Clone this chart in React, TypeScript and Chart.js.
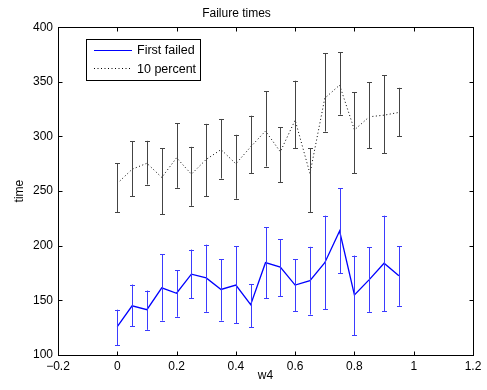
import React, { useEffect, useRef } from "react";
import { Chart, registerables } from "chart.js";

Chart.register(...registerables);

const w4 = [0, 0.05, 0.1, 0.15, 0.2, 0.25, 0.3, 0.35, 0.4, 0.45, 0.5, 0.55, 0.6, 0.65, 0.7, 0.75, 0.8, 0.85, 0.9, 0.95];

const firstFailed = [126, 145, 141.5, 161.5, 156.5, 174, 170.5, 160, 164, 146, 184.5, 180.5, 164, 168, 184.5, 213.5, 155, 169, 184, 172.5];
const firstFailedLow = [109, 126.5, 123, 131.5, 135, 152, 139.5, 131.5, 129, 125.5, 152, 154, 140, 137, 142, 175, 118, 139.5, 140, 145];
const firstFailedHigh = [141.5, 164.5, 159, 192, 177.5, 196.5, 201, 187.5, 199.5, 165, 217, 206, 187.5, 199, 227.5, 252.5, 191, 198.5, 227.5, 199.5];

const tenPercent = [257, 270, 275.5, 262.5, 280.5, 265.5, 279, 288, 275, 290.5, 305, 286, 315, 266, 335, 347, 306, 318, 319.5, 322];
const tenPercentLow = [230.5, 245.5, 256, 229, 253, 236.5, 245.5, 261.5, 243, 266.5, 272.5, 258, 289.5, 230.5, 304.5, 320, 266.5, 289, 284.5, 300];
const tenPercentHigh = [275.5, 295.5, 296, 289, 312, 290.5, 311.5, 316, 301.5, 319, 341.5, 308.5, 351, 289, 376, 377, 340.5, 349.5, 356, 344.5];

const xTicks = [-0.2, 0, 0.2, 0.4, 0.6, 0.8, 1, 1.2];
const yTicks = [100, 150, 200, 250, 300, 350, 400];

const seriesNames = ["First failed", "10 percent"];
const titleText = "Failure times";
const xTitle = "w4";
const yTitle = "time";

const FONT = "'Liberation Sans', Arial, Helvetica, sans-serif";

const fmt = (v: number) => String(Math.round(v * 10) / 10).replace("-", "\u2212");

export default function App() {
  const ref = useRef<HTMLCanvasElement | null>(null);

  useEffect(() => {
    if (!ref.current) return;

    const errorBars = [
      { low: tenPercentLow, high: tenPercentHigh, color: "#444444" },
      { low: firstFailedLow, high: firstFailedHigh, color: "#3b3bff" },
    ];

    const errPlugin = {
      id: "errbars",
      afterDatasetsDraw(chart: any) {
        const { ctx, scales } = chart;
        const xs = scales.x;
        const ys = scales.y;
        ctx.save();
        ctx.lineWidth = 1;
        errorBars.forEach((eb) => {
          ctx.strokeStyle = eb.color;
          w4.forEach((xv, i) => {
            const x = Math.round(xs.getPixelForValue(xv)) + 0.5;
            const y1 = ys.getPixelForValue(eb.low[i]);
            const y2 = ys.getPixelForValue(eb.high[i]);
            ctx.beginPath();
            ctx.moveTo(x, y1);
            ctx.lineTo(x, y2);
            ctx.moveTo(x - 2.5, Math.round(y1) + 0.5);
            ctx.lineTo(x + 2.5, Math.round(y1) + 0.5);
            ctx.moveTo(x - 2.5, Math.round(y2) + 0.5);
            ctx.lineTo(x + 2.5, Math.round(y2) + 0.5);
            ctx.stroke();
          });
        });
        ctx.restore();
      },
    };

    const framePlugin = {
      id: "frame",
      afterDraw(chart: any) {
        const { ctx, chartArea, scales } = chart;
        const { left, right, top, bottom } = chartArea;
        ctx.save();
        ctx.strokeStyle = "#000";
        ctx.lineWidth = 1;
        const L = Math.round(left) + 0.5;
        const R = Math.round(right) + 0.5;
        const T = Math.round(top) + 0.5;
        const B = Math.round(bottom) + 0.5;
        ctx.strokeRect(L, T, R - L, B - T);
        const tl = 4;
        ctx.beginPath();
        xTicks.forEach((v) => {
          const x = Math.round(scales.x.getPixelForValue(v)) + 0.5;
          ctx.moveTo(x, B);
          ctx.lineTo(x, B - tl);
          ctx.moveTo(x, T);
          ctx.lineTo(x, T + tl);
        });
        yTicks.forEach((v) => {
          const y = Math.round(scales.y.getPixelForValue(v)) + 0.5;
          ctx.moveTo(L, y);
          ctx.lineTo(L + tl, y);
          ctx.moveTo(R, y);
          ctx.lineTo(R - tl, y);
        });
        ctx.stroke();

        // legend
        const bx = 86.5, by = 39.5, bw = 114, bh = 41;
        ctx.fillStyle = "#fff";
        ctx.fillRect(bx, by, bw, bh);
        ctx.strokeRect(bx, by, bw, bh);
        ctx.font = "12.5px " + FONT;
        ctx.fillStyle = "#000";
        ctx.textBaseline = "middle";
        ctx.textAlign = "left";
        ctx.strokeStyle = "#0000ff";
        ctx.lineWidth = 1;
        ctx.beginPath();
        ctx.moveTo(94, 50.5);
        ctx.lineTo(132, 50.5);
        ctx.stroke();
        ctx.fillText(seriesNames[0], 137, 51);
        ctx.strokeStyle = "#000";
        ctx.setLineDash([1, 2.5]);
        ctx.beginPath();
        ctx.moveTo(94, 68.5);
        ctx.lineTo(132, 68.5);
        ctx.stroke();
        ctx.setLineDash([]);
        ctx.fillText(seriesNames[1], 137, 69.5);
        ctx.restore();
      },
    };

    const chart = new Chart(ref.current, {
      type: "line",
      data: {
        datasets: [
          {
            label: seriesNames[1],
            data: w4.map((x, i) => ({ x, y: tenPercent[i] })),
            borderColor: "#000",
            borderWidth: 1,
            borderDash: [1, 2.5],
            pointRadius: 0,
            tension: 0,
            fill: false,
          },
          {
            label: seriesNames[0],
            data: w4.map((x, i) => ({ x, y: firstFailed[i] })),
            borderColor: "#0000ff",
            borderWidth: 1.3,
            pointRadius: 0,
            tension: 0,
            fill: false,
          },
        ],
      },
      options: {
        animation: false,
        responsive: false,
        devicePixelRatio: 1,
        layout: { padding: { left: 0, right: 14, top: 0, bottom: 0 } },
        plugins: {
          legend: { display: false },
          tooltip: { enabled: false },
          title: {
            display: true,
            text: titleText,
            color: "#000",
            font: { family: FONT, size: 12, weight: "normal" },
            padding: { top: 6.3, bottom: 6.5 },
          },
        },
        scales: {
          x: {
            type: "linear",
            min: -0.2,
            max: 1.2,
            afterBuildTicks: (s: any) => {
              s.ticks = xTicks.map((v) => ({ value: v }));
            },
            afterFit: (s: any) => {
              s.height = 35;
            },
            grid: { display: false, drawTicks: false },
            border: { display: false },
            ticks: {
              color: "#000",
              font: { family: FONT, size: 12 },
              padding: 4,
              maxRotation: 0,
              autoSkip: false,
              callback: (v: any) => fmt(Number(v)),
            },
            title: {
              display: true,
              text: xTitle,
              color: "#000",
              font: { family: FONT, size: 12 },
              padding: { top: 0, bottom: 6.8 },
            },
          },
          y: {
            type: "linear",
            min: 100,
            max: 400,
            afterBuildTicks: (s: any) => {
              s.ticks = yTicks.map((v) => ({ value: v }));
            },
            afterFit: (s: any) => {
              s.width = 58;
            },
            grid: { display: false, drawTicks: false },
            border: { display: false },
            ticks: {
              color: "#000",
              font: { family: FONT, size: 12 },
              padding: 5,
              autoSkip: false,
              callback: (v: any) => fmt(Number(v)),
            },
            title: {
              display: true,
              text: yTitle,
              color: "#000",
              font: { family: FONT, size: 12 },
              padding: { top: 12.5, bottom: 0 },
            },
          },
        },
      },
      plugins: [errPlugin, framePlugin],
    } as any);

    return () => chart.destroy();
  }, []);

  return (
    <div style={{ position: "absolute", left: 0, top: 0, width: 487, height: 390, background: "#fff" }}>
      <canvas ref={ref} width={487} height={390} style={{ display: "block", width: 487, height: 390 }} />
    </div>
  );
}
